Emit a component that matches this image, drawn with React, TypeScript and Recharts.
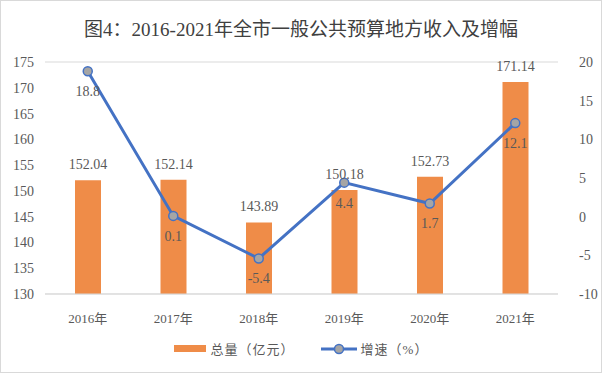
import {
  ComposedChart,
  Bar,
  Line,
  XAxis,
  YAxis,
  CartesianGrid,
  LabelList,
} from "recharts";

// 데이터
const years = ["2016年", "2017年", "2018年", "2019年", "2020年", "2021年"];
const totals = [152.04, 152.14, 143.89, 150.18, 152.73, 171.14];
const growth = [18.8, 0.1, -5.4, 4.4, 1.7, 12.1];
const leftTicks = [130, 135, 140, 145, 150, 155, 160, 165, 170, 175];
const rightTicks = [-10, -5, 0, 5, 10, 15, 20];

const data = years.map((year, i) => ({
  year,
  total: totals[i],
  growth: growth[i],
}));

const FONT = '"Liberation Serif", "Noto Sans CJK SC", serif';
const TEXT = "#595959";
const BAR_COLOR = "#EF8C48";
const LINE_COLOR = "#4472C4";

export default function App() {
  return (
    <div
      style={{
        position: "fixed",
        left: 0,
        top: 0,
        width: 602,
        height: 373,
        background: "#fff",
        fontFamily: FONT,
      }}
    >
      <div
        style={{
          position: "absolute",
          inset: 0,
          border: "1px solid #D9D9D9",
          boxSizing: "border-box",
          pointerEvents: "none",
        }}
      />
      <div
        style={{
          position: "absolute",
          top: 18,
          left: 0,
          width: 602,
          textAlign: "center",
          fontSize: 19,
          color: "#404040",
          lineHeight: "24px",
        }}
      >
        图4：2016-2021年全市一般公共预算地方收入及增幅
      </div>
      <ComposedChart
        width={602}
        height={373}
        data={data}
        margin={{ top: 62, right: 0, left: 0, bottom: 0 }}
        style={{ position: "absolute", left: 0, top: 0 }}
      >
        <CartesianGrid vertical={false} stroke="#D9D9D9" />
        <XAxis
          dataKey="year"
          height={79}
          axisLine={{ stroke: "#D9D9D9" }}
          tickLine={false}
          tick={{ fontSize: 13, fill: TEXT, fontFamily: FONT }}
          tickMargin={14}
        />
        <YAxis
          yAxisId="left"
          width={45}
          domain={[130, 175]}
          ticks={leftTicks}
          axisLine={false}
          tickLine={false}
          tick={{ fontSize: 14, fill: TEXT, fontFamily: FONT }}
          tickMargin={5}
        />
        <YAxis
          yAxisId="right"
          orientation="right"
          width={44}
          domain={[-10, 20]}
          ticks={rightTicks}
          axisLine={false}
          tickLine={false}
          tick={{ fontSize: 14, fill: TEXT, fontFamily: FONT }}
          tickMargin={15}
        />
        <Bar
          yAxisId="left"
          dataKey="total"
          fill={BAR_COLOR}
          barSize={26}
          isAnimationActive={false}
        >
          <LabelList
            dataKey="total"
            position="top"
            offset={11}
            style={{ fontSize: 14, fill: TEXT, fontFamily: FONT }}
          />
        </Bar>
        <Line
          yAxisId="right"
          dataKey="growth"
          stroke={LINE_COLOR}
          strokeWidth={3}
          dot={{ r: 4.5, fill: "#A5A5A5", stroke: LINE_COLOR, strokeWidth: 1.5 }}
          isAnimationActive={false}
        >
          <LabelList
            dataKey="growth"
            position="bottom"
            offset={15}
            style={{ fontSize: 14, fill: TEXT, fontFamily: FONT }}
          />
        </Line>
      </ComposedChart>
      {/* 범례 */}
      <div
        style={{
          position: "absolute",
          top: 339,
          left: 0,
          width: 602,
          display: "flex",
          justifyContent: "center",
          alignItems: "center",
          fontSize: 13,
          color: TEXT,
        }}
      >
        <span
          style={{
            display: "inline-block",
            width: 32,
            height: 7,
            background: BAR_COLOR,
            marginRight: 5,
          }}
        />
        <span style={{ letterSpacing: 1 }}>总量（亿元）</span>
        <svg width={36} height={14} style={{ marginLeft: 26, marginRight: 4 }}>
          <line x1={0} y1={7} x2={36} y2={7} stroke={LINE_COLOR} strokeWidth={3} />
          <circle cx={18} cy={7} r={4.5} fill="#A5A5A5" stroke={LINE_COLOR} strokeWidth={1.5} />
        </svg>
        <span style={{ letterSpacing: 1 }}>增速（%）</span>
      </div>
    </div>
  );
}
